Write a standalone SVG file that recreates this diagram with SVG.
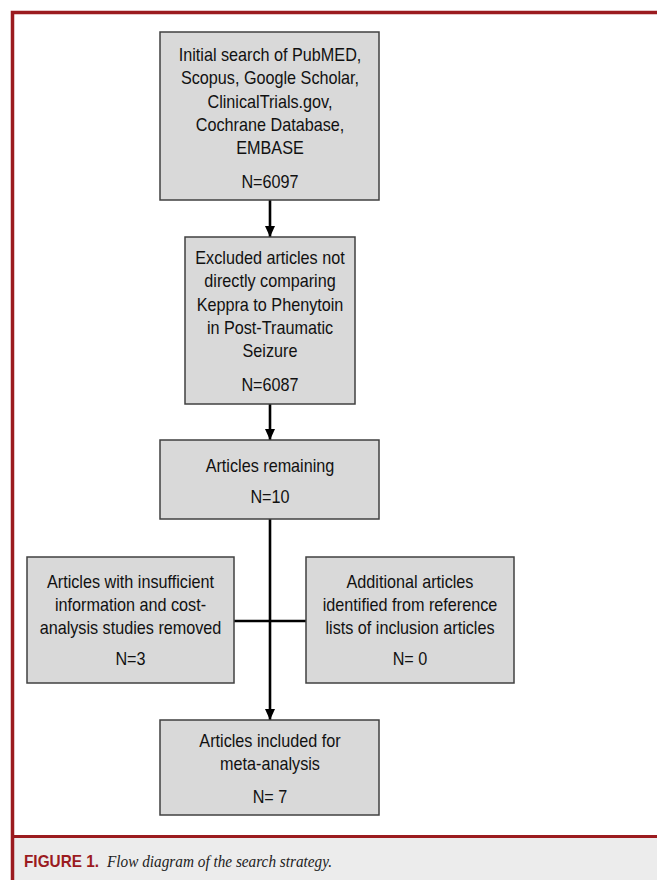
<svg xmlns="http://www.w3.org/2000/svg" width="657" height="880" viewBox="0 0 657 880">
<style>
.box{fill:#d9d9d9;stroke:#404040;stroke-width:1.5}
.t{font-family:"Liberation Sans",Arial,sans-serif;font-size:18px;fill:#111;text-anchor:middle}
.c{stroke:#000;stroke-width:2.6;fill:none}
</style>
<defs>
<marker id="ah" markerUnits="userSpaceOnUse" markerWidth="12" markerHeight="12" refX="11" refY="5" orient="auto">
<path d="M0,0 L11,5 L0,10 z" fill="#000"/>
</marker>
</defs>
<rect x="0" y="0" width="657" height="880" fill="#fff"/>
<rect x="14" y="838" width="643" height="42" fill="#ececec"/>
<path d="M12.5,880 V12.5 H657" fill="none" stroke="#9b1b1f" stroke-width="3.5"/>
<line x1="14" y1="836.5" x2="657" y2="836.5" stroke="#9b1b1f" stroke-width="3"/>

<g id="connectors">
<line class="c" x1="270" y1="200" x2="270" y2="237" marker-end="url(#ah)"/>
<line class="c" x1="270" y1="404" x2="270" y2="440" marker-end="url(#ah)"/>
<line class="c" x1="270" y1="519" x2="270" y2="720" marker-end="url(#ah)"/>
<line class="c" x1="234" y1="621" x2="306" y2="621"/>
</g>

<g id="n1">
<rect class="box" x="160" y="32" width="219" height="168"/>
<g transform="translate(270,0) scale(0.9,1)">
<text class="t" x="0" y="61">Initial search of PubMED,</text>
<text class="t" x="0" y="84.5">Scopus, Google Scholar,</text>
<text class="t" x="0" y="108">ClinicalTrials.gov,</text>
<text class="t" x="0" y="131.5">Cochrane Database,</text>
<text class="t" x="0" y="154.5">EMBASE</text>
<text class="t" x="0" y="188">N=6097</text>
</g>
</g>

<g id="n2">
<rect class="box" x="185" y="237" width="170" height="167"/>
<g transform="translate(270,0) scale(0.9,1)">
<text class="t" x="0" y="264">Excluded articles not</text>
<text class="t" x="0" y="287.5">directly comparing</text>
<text class="t" x="0" y="311">Keppra to Phenytoin</text>
<text class="t" x="0" y="334.5">in Post-Traumatic</text>
<text class="t" x="0" y="357.5">Seizure</text>
<text class="t" x="0" y="391">N=6087</text>
</g>
</g>

<g id="n3">
<rect class="box" x="160" y="440" width="219" height="79"/>
<g transform="translate(270,0) scale(0.9,1)">
<text class="t" x="0" y="472">Articles remaining</text>
<text class="t" x="0" y="503">N=10</text>
</g>
</g>

<g id="n4">
<rect class="box" x="27" y="557" width="207" height="126"/>
<g transform="translate(130.5,0) scale(0.9,1)">
<text class="t" x="0" y="588">Articles with insufficient</text>
<text class="t" x="0" y="611">information and cost-</text>
<text class="t" x="0" y="634.5">analysis studies removed</text>
<text class="t" x="0" y="665.5">N=3</text>
</g>
</g>

<g id="n5">
<rect class="box" x="306" y="557" width="208" height="126"/>
<g transform="translate(410,0) scale(0.9,1)">
<text class="t" x="0" y="588">Additional articles</text>
<text class="t" x="0" y="611">identified from reference</text>
<text class="t" x="0" y="634.5">lists of inclusion articles</text>
<text class="t" x="0" y="665.5">N= 0</text>
</g>
</g>

<g id="n6">
<rect class="box" x="160" y="720" width="219" height="95"/>
<g transform="translate(270,0) scale(0.9,1)">
<text class="t" x="0" y="747">Articles included for</text>
<text class="t" x="0" y="770">meta-analysis</text>
<text class="t" x="0" y="803">N= 7</text>
</g>
</g>

<g id="caption">
<text x="24" y="867" font-family="'Liberation Sans',Arial,sans-serif" font-weight="bold" font-size="17" fill="#9b1b1f" textLength="75" lengthAdjust="spacingAndGlyphs">FIGURE 1.</text>
<text x="107" y="867" font-family="'Liberation Serif','Times New Roman',serif" font-style="italic" font-size="17" fill="#222" textLength="225" lengthAdjust="spacingAndGlyphs">Flow diagram of the search strategy.</text>
</g>
</svg>
